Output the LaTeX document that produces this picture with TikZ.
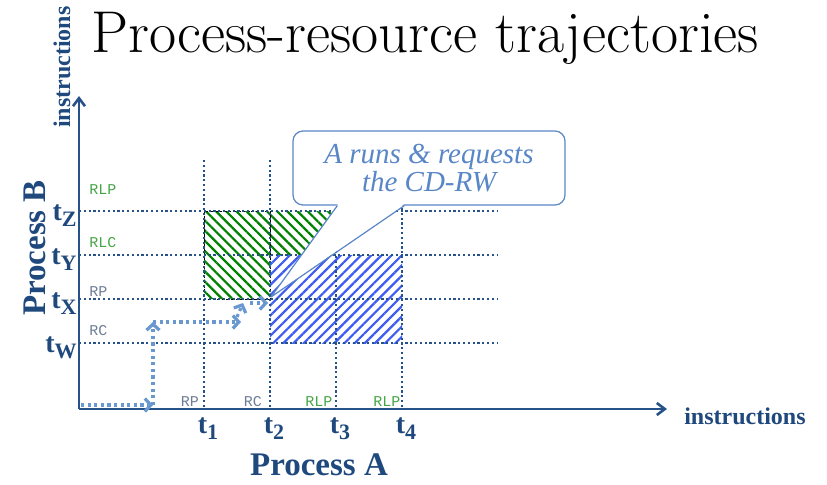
\documentclass[tikz,border=0pt]{standalone}
\usepackage{fontspec}
\newfontfamily\labelfont{Liberation Serif}
\newfontfamily\tagfont{Liberation Mono}
\usepackage{xcolor}
\usepackage{tikz}
\usetikzlibrary{positioning, arrows.meta, patterns.meta, calc}

\definecolor{axisblue}{RGB}{38,82,138}
\definecolor{textblue}{RGB}{31,73,125}
\definecolor{trajblue}{RGB}{105,152,208}
\definecolor{noteblue}{RGB}{88,134,198}
\definecolor{hatchgreen}{RGB}{0,130,0}
\definecolor{hatchblue}{RGB}{62,92,240}
\definecolor{taggray}{RGB}{110,125,150}
\definecolor{taggreen}{RGB}{70,165,70}

% time label: bold t with a large subscript
\newcommand{\tsub}[1]{t\raisebox{-0.45ex}{\fontsize{11}{11}\selectfont #1}}

\begin{document}
\begin{tikzpicture}[x=0.5pt, y=-0.5pt,
  axis/.style={draw=axisblue, line width=1.3pt, -{Straight Barb[length=4pt, width=6pt]}},
  grid/.style={draw=axisblue, line width=1.1pt, dash pattern=on 1.1pt off 1.3pt},
  traj/.style={draw=trajblue, line width=1.6pt, dash pattern=on 1.6pt off 1.7pt,
    -{Straight Barb[length=3pt, width=6.5pt, line width=1.6pt]}},
  axlabel/.style={text=textblue, font=\labelfont\bfseries\fontsize{12}{14}\selectfont},
  proclabel/.style={text=textblue, font=\labelfont\bfseries\fontsize{16.5}{18}\selectfont},
  tlabel/.style={text=textblue, inner sep=0pt, font=\labelfont\bfseries\fontsize{14}{15}\selectfont},
  tag/.style={inner sep=0pt, font=\tagfont\fontsize{7.5}{9}\selectfont},
  notebox/.style={draw=noteblue, line width=0.6pt, fill=white, rounded corners=5pt,
    minimum width=136pt, minimum height=37pt},
  notetext/.style={text=noteblue, align=center, font=\labelfont\itshape\fontsize{14.5}{14}\selectfont}
]
  \useasboundingbox (0,0) rectangle (827,484);

  % title
  \node[anchor=base, font=\fontsize{29.5}{32}\selectfont] (title) at (425,52) {Process-resource trajectories};

  % hatched regions: green for B, blue for A
  \fill[pattern={Lines[angle=-45, distance=3.6pt, line width=1.1pt]}, pattern color=hatchgreen]
    (204,211) -- (336,211) -- (336,255) -- (270,255) -- (270,299) -- (204,299) -- cycle;
  \draw[black, line width=0.4pt, dash pattern=on 1.5pt off 0.8pt] (204,211) rectangle (270,299);
  \fill[pattern={Lines[angle=45, distance=3.6pt, line width=1.1pt]}, pattern color=hatchblue]
    (270,255) rectangle (402,343);

  % grid of times
  \foreach \x/\i in {204/1, 270/2, 336/3, 402/4} {
    \draw[grid] (\x,160) -- (\x,409);
    \node[tlabel] (t\i) at (\x+4,429) {\tsub{\i}};
  }
  \foreach \y/\n in {211/Z, 255/Y, 299/X, 343/W} {
    \draw[grid] (79,\y) -- (498,\y);
    \node[tlabel, anchor=east] (t\n) at (77,\y+5) {\tsub{\n}};
  }

  % axes
  \coordinate (origin) at (79,409);
  \coordinate (xend) at (667,409);
  \coordinate (yend) at (79,96);
  \draw[axis] (origin) -- (xend);
  \draw[axis] (origin) -- (yend);

  \node[axlabel] (xlab) at (745,416) {instructions};
  \node[axlabel, rotate=90] (ylab) at (62,67) {instructions};
  \node[proclabel] (procA) at (319,465) {Process A};
  \node[proclabel, rotate=90] (procB) at (35,248) {Process B};

  % resource tags
  \node[tag, text=taggreen, anchor=west] (rlpB) at (89,190) {RLP};
  \node[tag, text=taggreen, anchor=west] (rlcB) at (89,243) {RLC};
  \node[tag, text=taggray, anchor=west] (rpB) at (89,292) {RP};
  \node[tag, text=taggray, anchor=west] (rcB) at (89,331) {RC};
  \node[tag, text=taggray] (rpA) at (190,402) {RP};
  \node[tag, text=taggray] (rcA) at (253,402) {RC};
  \node[tag, text=taggreen] (rlpA) at (319,402) {RLP};
  \node[tag, text=taggreen] (rlpA2) at (387,402) {RLP};

  % callout
  \coordinate (tip) at (271,297);
  \node[notebox] (note) at (429,168) {};
  \fill[white] ($(note.south west)+(45.5,-1.5)$) -- (tip) -- ($(note.south west)+(111.5,-1.5)$) -- cycle;
  \draw[noteblue, line width=0.6pt, line join=round]
    ($(note.south west)+(45,0)$) -- (tip) -- ($(note.south west)+(112,0)$);
  \node[notetext] (notetxt) at (note.center) {A runs \& requests\\the CD-RW};

  % trajectory
  \coordinate (s0) at (81,405);
  \coordinate (s1) at (153,405);
  \coordinate (s2) at (153,322);
  \coordinate (s3) at (241,322);
  \coordinate (s4) at (237,317);
  \coordinate (s5) at (243,303);
  \coordinate (s6) at (250,303);
  \coordinate (s7) at (268,303);
  \draw[traj] (s0) -- (s1);
  \draw[traj] (s1) -- (s2);
  \draw[traj] (s2) -- (s3);
  \draw[traj] (s4) -- (s5);
  \draw[traj] (s6) -- (s7);
\end{tikzpicture}
\end{document}
